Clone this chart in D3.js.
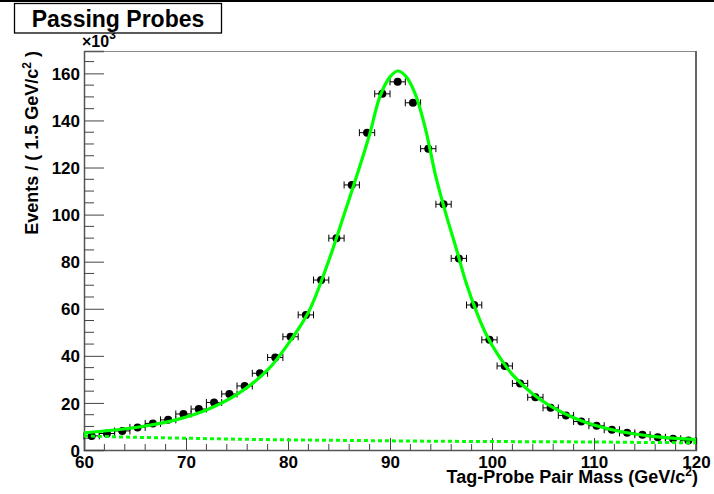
<!DOCTYPE html>
<html>
<head>
<meta charset="utf-8">
<script src="https://cdn.jsdelivr.net/npm/d3@7"></script>
<style>
  html, body { margin: 0; padding: 0; background: #fff; }
  svg { display: block; }
  text { font-family: "Liberation Sans", Arial, Helvetica, sans-serif; font-weight: bold; fill: #000; }
</style>
</head>
<body>
<svg id="chart" width="714" height="494"></svg>
<script>
// Tag-probe pair mass spectrum for passing probes (1.5 GeV bins), counts in thousands
const massBins = [60.75, 62.25, 63.75, 65.25, 66.75, 68.25, 69.75, 71.25, 72.75, 74.25,
                  75.75, 77.25, 78.75, 80.25, 81.75, 83.25, 84.75, 86.25, 87.75, 89.25,
                  90.75, 92.25, 93.75, 95.25, 96.75, 98.25, 99.75, 101.25, 102.75, 104.25,
                  105.75, 107.25, 108.75, 110.25, 111.75, 113.25, 114.75, 116.25, 117.75, 119.25];
const counts = [6.0, 7.0, 8.1, 9.6, 11.3, 12.8, 15.3, 17.4, 20.2, 23.8,
                27.2, 32.6, 39.3, 48.1, 57.4, 72.2, 90.0, 112.6, 134.8, 151.3,
                156.4, 147.5, 128.0, 104.4, 81.4, 61.6, 46.8, 35.7, 28.3, 22.4,
                17.9, 14.7, 12.1, 10.3, 8.6, 7.3, 6.5, 5.4, 4.8, 4.0];
const binHalfWidth = 0.75;

// Total fit (signal + background)
const fitMass  = [60, 63, 66, 69, 72, 75, 78, 80, 82, 84, 85.5, 87, 88, 89, 90, 90.75, 91.5,
                  92.5, 93.5, 94.5, 95.5, 96.5, 97.5, 98.5, 99.5, 100.5, 102, 104, 106, 108,
                  110, 112, 114, 116, 118, 120];
const fitValue = [7.3, 8.5, 10.2, 12.8, 17.0, 23.6, 34.0, 45.0, 58.5, 80.5, 100, 120, 134, 150,
                  158.5, 161, 159, 151, 136, 116, 100, 85.5, 70.5, 58.5, 48.5, 41, 32, 23.8, 18,
                  13.7, 10.6, 8.4, 6.8, 5.7, 4.9, 4.4];

// Background component
const bkgMass  = [60, 65, 70, 75, 80, 85, 90, 95, 100, 105, 110, 115, 120];
const bkgValue = [6.0, 5.4, 5.0, 4.6, 4.3, 4.1, 3.9, 3.7, 3.6, 3.5, 3.4, 3.2, 3.1];

const xTicks = [60, 70, 80, 90, 100, 110, 120];
const yTicks = [0, 20, 40, 60, 80, 100, 120, 140, 160];

const frame = { left: 84, right: 696, top: 51, bottom: 450 };
const svg = d3.select("#chart");

const x = d3.scaleLinear().domain([60, 120]).range([frame.left, frame.right]);
const y = d3.scaleLinear().domain([0, 169.5]).range([frame.bottom, frame.top]);

// canvas border line at top
svg.append("rect").attr("x", 0).attr("y", 0).attr("width", 714).attr("height", 2).attr("fill", "#000");

// frame (top and right)
svg.append("line").attr("x1", frame.left).attr("x2", frame.right)
  .attr("y1", frame.top + 0.5).attr("y2", frame.top + 0.5)
  .attr("stroke", "#8a8a8a").attr("stroke-width", 1);
svg.append("line").attr("x1", frame.right).attr("x2", frame.right)
  .attr("y1", frame.top).attr("y2", frame.bottom)
  .attr("stroke", "#666").attr("stroke-width", 2);

// x axis with major and minor ticks pointing inwards
const xAxis = d3.axisBottom(x).tickValues(xTicks).tickSize(-12).tickPadding(0).tickFormat(d3.format("d"));
const xg = svg.append("g").attr("transform", `translate(0,${frame.bottom})`).call(xAxis);
xg.select(".domain").attr("stroke", "#555").attr("stroke-width", 1.5);
xg.selectAll(".tick line").attr("stroke", "#444");
xg.selectAll(".tick text").attr("font-size", 17).attr("y", 18).attr("dy", 0);
const xMinor = d3.range(62, 120, 2).filter(v => v % 10 !== 0);
xg.selectAll(".minor").data(xMinor).join("line")
  .attr("x1", d => x(d)).attr("x2", d => x(d)).attr("y1", 0).attr("y2", -6)
  .attr("stroke", "#444");

// y axis with major and minor ticks pointing inwards
const yAxis = d3.axisLeft(y).tickValues(yTicks).tickSize(-20).tickPadding(0).tickFormat(d3.format("d"));
const yg = svg.append("g").attr("transform", `translate(${frame.left},0)`).call(yAxis);
yg.select(".domain").attr("stroke", "#555").attr("stroke-width", 1.5);
yg.selectAll(".tick line").attr("stroke", "#444");
yg.selectAll(".tick text").attr("font-size", 17).attr("x", -4).attr("dy", "0.36em");
const yMinor = d3.range(5, 170, 5).filter(v => v % 20 !== 0);
yg.selectAll(".minor").data(yMinor).join("line")
  .attr("x1", 0).attr("x2", 10).attr("y1", d => y(d)).attr("y2", d => y(d))
  .attr("stroke", "#444");
svg.selectAll(".domain").attr("fill", "none");

// data points with bin-width error bars
const pts = svg.append("g");
const pairs = massBins.map((m, i) => ({ m, v: counts[i] }));
pts.selectAll(".eb").data(pairs).join("line")
  .attr("x1", d => x(d.m - binHalfWidth)).attr("x2", d => x(d.m + binHalfWidth))
  .attr("y1", d => y(d.v)).attr("y2", d => y(d.v))
  .attr("stroke", "#000").attr("stroke-width", 1);
pts.selectAll(".capL").data(pairs).join("line")
  .attr("x1", d => x(d.m - binHalfWidth)).attr("x2", d => x(d.m - binHalfWidth))
  .attr("y1", d => y(d.v) - 3.5).attr("y2", d => y(d.v) + 3.5)
  .attr("stroke", "#000").attr("stroke-width", 1);
pts.selectAll(".capR").data(pairs).join("line")
  .attr("x1", d => x(d.m + binHalfWidth)).attr("x2", d => x(d.m + binHalfWidth))
  .attr("y1", d => y(d.v) - 3.5).attr("y2", d => y(d.v) + 3.5)
  .attr("stroke", "#000").attr("stroke-width", 1);
pts.selectAll("circle").data(pairs).join("circle")
  .attr("cx", d => x(d.m)).attr("cy", d => y(d.v)).attr("r", 4)
  .attr("fill", "#000");

// background component (dotted) and total fit (solid)
const line = d3.line().x(d => x(d[0])).y(d => y(d[1])).curve(d3.curveCatmullRom.alpha(0.5));
svg.append("path")
  .attr("d", line(bkgMass.map((m, i) => [m, bkgValue[i]])))
  .attr("fill", "none").attr("stroke", "#00ff00").attr("stroke-width", 3)
  .attr("stroke-dasharray", "4,3");
svg.append("path")
  .attr("d", line(fitMass.map((m, i) => [m, fitValue[i]])))
  .attr("fill", "none").attr("stroke", "#00ff00").attr("stroke-width", 3.2)
  .attr("stroke-linejoin", "round");

// axis titles
const xt = svg.append("text").attr("x", frame.right + 2).attr("y", 483)
  .attr("text-anchor", "end").attr("font-size", 18);
xt.append("tspan").text("Tag-Probe Pair Mass (GeV/c");
xt.append("tspan").attr("font-size", 12).attr("dy", -7).text("2");
xt.append("tspan").attr("dy", 7).text(")");

const yt = svg.append("text").attr("transform", `translate(38,${frame.top}) rotate(-90)`)
  .attr("text-anchor", "end").attr("font-size", 18);
yt.append("tspan").text("Events / ( 1.5 GeV/c");
yt.append("tspan").attr("font-size", 12).attr("dy", -7).text("2");
yt.append("tspan").attr("dy", 7).text(" )");

// exponent label of the y axis
const ex = svg.append("text").attr("x", frame.left - 2).attr("y", 47).attr("font-size", 16);
ex.append("tspan").text("×10");
ex.append("tspan").attr("font-size", 12).attr("dy", -8).text("3");

// title box
svg.append("rect").attr("x", 14.5).attr("y", 3.5).attr("width", 207).attr("height", 29.5)
  .attr("fill", "#fff").attr("stroke", "#000").attr("stroke-width", 1.3);
svg.append("text").attr("x", 118).attr("y", 27).attr("text-anchor", "middle")
  .attr("font-size", 23).text("Passing Probes");
</script>
</body>
</html>
